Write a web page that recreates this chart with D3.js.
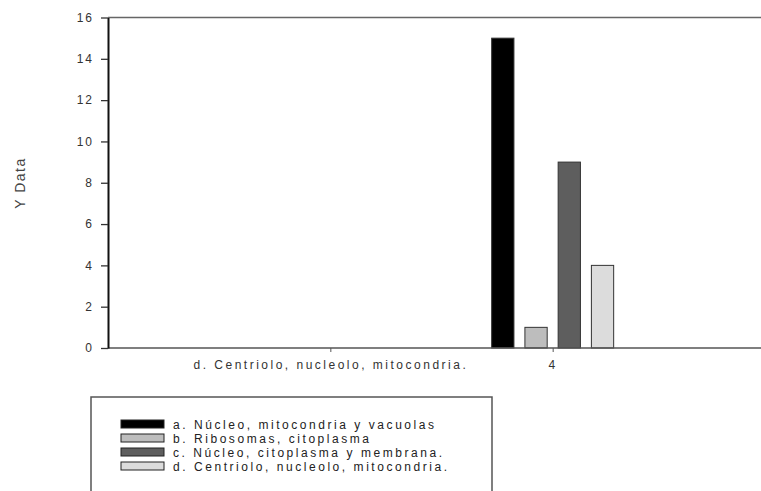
<!DOCTYPE html>
<html><head><meta charset="utf-8">
<script src="https://cdn.jsdelivr.net/npm/d3@7"></script>
<style>body{margin:0;background:#fff;}svg{display:block;font-family:"Liberation Sans",Arial,sans-serif;}</style>
</head><body>
<svg id="c" width="761" height="491"></svg>
<script>
const categories = ["d. Centriolo, nucleolo, mitocondria.", "4"];
const seriesNames = ["a. Núcleo, mitocondria y vacuolas","b. Ribosomas, citoplasma","c. Núcleo, citoplasma y membrana.","d. Centriolo, nucleolo, mitocondria."];
const seriesValues = [15, 1, 9, 4]; // values at category "4"
const seriesColors = ["#000000","#bdbdbd","#5e5e5e","#dcdcdc"];
const yTicks = [0,2,4,6,8,10,12,14,16];

const svg = d3.select("#c");
const mLeft = 108, mRight = 775, mTop = 17.5, mBottom = 348;
const x = d3.scalePoint().domain(categories).range([mLeft, mRight]).padding(1);
const y = d3.scaleLinear().domain([0,16]).range([mBottom, mTop]);
const inner = d3.scaleBand().domain(seriesNames).range([-61, 61]).paddingInner(0.33).paddingOuter(0);

// top frame line
svg.append("line").attr("x1",mLeft).attr("x2",761).attr("y1",mTop).attr("y2",mTop).attr("stroke","#666").attr("stroke-width",1.5);

// bars
const g = svg.append("g").attr("transform",`translate(${x("4")},0)`);
g.selectAll("rect").data(seriesValues).join("rect")
  .attr("x",(d,i)=>inner(seriesNames[i]))
  .attr("width",inner.bandwidth())
  .attr("y",d=>y(d)).attr("height",d=>mBottom-y(d))
  .attr("fill",(d,i)=>seriesColors[i]).attr("stroke","#333").attr("stroke-width",1);

// x axis
const xa = svg.append("g").attr("transform",`translate(0,${mBottom})`).call(d3.axisBottom(x).tickSize(4).tickSizeOuter(0));
xa.select(".domain").remove();
svg.append("line").attr("x1",mLeft).attr("x2",761).attr("y1",mBottom).attr("y2",mBottom).attr("stroke","#555").attr("stroke-width",1.5);
xa.selectAll(".tick line").attr("stroke","#555");
xa.selectAll("text").attr("font-size",12).attr("fill","#333").attr("dy","1.15em").attr("letter-spacing",2.5).attr("font-family","'Liberation Sans',Arial,sans-serif");

// y axis
const ya = svg.append("g").attr("transform",`translate(${mLeft},0)`).call(d3.axisLeft(y).tickValues(yTicks).tickSize(7).tickPadding(7).tickSizeOuter(0));
ya.select(".domain").attr("stroke","#111").attr("stroke-width",2);
ya.selectAll(".tick line").attr("stroke","#333").attr("stroke-width",1.3);
ya.selectAll("text").attr("font-size",12).attr("fill","#333").attr("letter-spacing",2).attr("font-family","'Liberation Sans',Arial,sans-serif");

// y label
svg.append("text").attr("transform","translate(25,183) rotate(-90)").attr("text-anchor","middle")
  .attr("font-size",14).attr("fill","#444").attr("letter-spacing",1.5).text("Y Data");

// legend
const lg = svg.append("g");
lg.append("rect").attr("x",91).attr("y",397).attr("width",401).attr("height",110).attr("fill","#fff").attr("stroke","#555").attr("stroke-width",1.5);
const rows = lg.selectAll("g.row").data(seriesNames).join("g").attr("class","row")
  .attr("transform",(d,i)=>`translate(121,${424+i*14})`);
rows.append("rect").attr("x",0).attr("y",-4).attr("width",43).attr("height",8)
  .attr("fill",(d,i)=>seriesColors[i]).attr("stroke","#222").attr("stroke-width",1);
rows.append("text").attr("x",52).attr("y",4.5).attr("font-size",12).attr("fill","#222").attr("letter-spacing",2.55).text(d=>d);
</script>
</body></html>
